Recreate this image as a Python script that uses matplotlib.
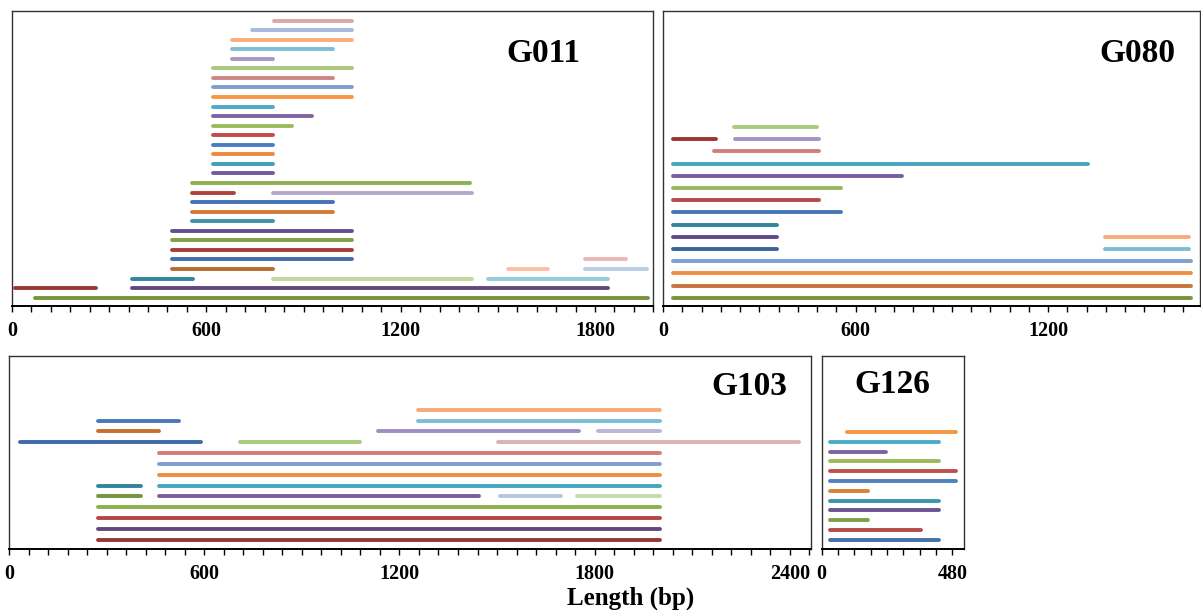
import matplotlib
matplotlib.use("Agg")
import matplotlib.pyplot as plt
from matplotlib.ticker import MultipleLocator

plt.rcParams['font.family'] = ['Liberation Serif', 'DejaVu Serif']
plt.rcParams['font.weight'] = 'bold'

# ---- G011: row index (1 = bottom), start / end in bp ----
g011_row = [1, 2, 2, 3, 3, 3, 4, 4, 4, 5, 5, 6, 7, 8, 9, 10, 11, 12, 12, 13,
            14, 15, 16, 17, 18, 19, 20, 21, 22, 23, 24, 25, 26, 27, 28, 29, 30]
g011_start = [70, 10, 370, 370, 805, 1470, 495, 1530, 1770, 495, 1770, 495, 495, 495, 555, 555, 555, 555, 805, 555,
              620, 620, 620, 620, 620, 620, 620, 620, 620, 620, 620, 620, 680, 680, 680, 740, 810]
g011_end = [1965, 260, 1840, 560, 1420, 1840, 805, 1655, 1960, 1050, 1895, 1050, 1050, 1050, 805, 990, 990, 685, 1420, 1415,
            805, 805, 805, 805, 805, 865, 925, 805, 1050, 1050, 990, 1050, 805, 990, 1050, 1050, 1050]
g011_color = ['#77933C', '#953735', '#604A7B', '#31859C', '#C3D69B', '#93CDDD', '#B96A2E', '#FAC09F', '#B9CDE5',
              '#416FA9', '#E6B9B8', '#A63C3A', '#7FA046', '#654F8A', '#3A93A8', '#D37A35', '#4472B5', '#B2403D',
              '#B5A9CA', '#8DB04E', '#7459A0', '#3CA0BA', '#EE8A3E', '#4A7DC0', '#C44B48', '#9BBB59', '#8064A2',
              '#4BACC6', '#F79646', '#7F9ECF', '#CE8685', '#AAC77A', '#A897C2', '#7DC0D6', '#F9AD78', '#A5B9DC',
              '#D9A8A8']

# ---- G080 ----
g080_row = [1, 2, 3, 4, 5, 5, 6, 6, 7, 8, 9, 10, 11, 12, 13, 14, 14, 15]
g080_start = [30, 30, 30, 30, 30, 1377, 30, 1377, 30, 30, 30, 30, 30, 30, 160, 30, 225, 220]
g080_end = [1645, 1645, 1645, 1645, 355, 1640, 355, 1640, 355, 555, 485, 555, 745, 1325, 485, 165, 485, 480]
g080_color = ['#77933C', '#C8733A', '#EF8D43', '#7F9FD0', '#3C6399', '#7DBCD5', '#5F4B8B', '#F9AC79',
              '#32869A', '#4677B4', '#B8494A', '#94B85A', '#7A5CA0', '#47A6BF', '#D27E7C', '#9C3432',
              '#A392C3', '#A9CC7B']

# ---- G103 ----
g103_row = [1, 2, 3, 4, 5, 5, 5, 5, 6, 6, 7, 8, 9, 10, 10, 10, 11, 11, 11, 12, 12, 13]
g103_start = [275, 275, 275, 275, 275, 460, 1510, 1747, 275, 460, 460, 460, 460, 34, 709, 1504,
              275, 1134, 1809, 275, 1256, 1256]
g103_end = [2000, 2000, 2000, 2000, 405, 1445, 1697, 2000, 405, 2000, 2000, 2000, 2000, 590, 1080, 2427,
            462, 1752, 2000, 522, 2000, 2000]
g103_color = ['#953735', '#604A7B', '#B44644', '#8DB04A', '#77933C', '#7A5E9F', '#B3C6E2', '#C6DAAE',
              '#31849B', '#44A6C0', '#F08C44', '#7F9FD0', '#D07D7B', '#3E6BA8', '#A8CA7A', '#DDB2B2',
              '#C66F2D', '#A08EC0', '#BDB4D3', '#4A79B8', '#7DBCD5', '#F9A979']

# ---- G126 ----
g126_row = [1, 2, 3, 4, 5, 6, 7, 8, 9, 10, 11, 12]
g126_start = [30, 30, 30, 30, 30, 30, 30, 30, 30, 30, 30, 92]
g126_end = [432, 366, 169, 432, 432, 169, 494, 494, 432, 236, 432, 494]
g126_color = ['#4470AC', '#B84A48', '#7FA146', '#6B5494', '#3A96AD', '#D98039',
              '#4F81BD', '#C0504D', '#9BBB59', '#8064A2', '#4BACC6', '#F79646']

W, H = 1201, 612


def box(left, right, top, bottom):
    return [left / W, 1 - bottom / H, (right - left) / W, (bottom - top) / H]


def panel(rect, name, rows, starts, ends, colors, xmax, ylim, major, title_pos):
    ax = fig.add_axes(rect)
    ax.hlines(rows, starts, ends, colors=colors, lw=2.8, capstyle='round')
    ax.set_xlim(0, xmax)
    ax.set_ylim(*ylim)
    ax.xaxis.set_major_locator(MultipleLocator(major))
    ax.xaxis.set_minor_locator(MultipleLocator(60))
    ax.set_yticks([])
    ax.tick_params(axis='x', which='both', direction='out', length=4.3, width=1,
                   color='black', labelsize=14.5, pad=6.5)
    for lab in ax.get_xticklabels():
        lab.set_fontweight('bold')
    for s in ax.spines.values():
        s.set_color('#333333')
        s.set_linewidth(1.0)
    ax.spines['bottom'].set_color('black')
    ax.spines['bottom'].set_linewidth(1.4)
    ax.text(title_pos[0], title_pos[1], name, transform=ax.transAxes, ha='center',
            va='baseline', fontsize=24, fontweight='bold')
    return ax


fig = plt.figure(figsize=(W / 100, H / 100), dpi=100)

panel(box(12, 653.3, 11, 306), 'G011', g011_row, g011_start, g011_end, g011_color,
      1980, (0.13, 31.0), 600, (0.828, 0.828))
panel(box(663, 1199.5, 11, 306), 'G080', g080_row, g080_start, g080_end, g080_color,
      1672, (0.32, 24.5), 600, (0.885, 0.828))
panel(box(9, 810.7, 355.7, 549), 'G103', g103_row, g103_start, g103_end, g103_color,
      2464, (0.14, 18.0), 600, (0.924, 0.797))
panel(box(821.7, 964, 355.7, 549), 'G126', g126_row, g126_start, g126_end, g126_color,
      523, (0.05, 19.8), 480, (0.494, 0.809))

fig.text(631 / W, 1 - 605 / H, 'Length (bp)', ha='center', va='baseline',
         fontsize=18, fontweight='bold')

fig.savefig('out.png', dpi=100)
